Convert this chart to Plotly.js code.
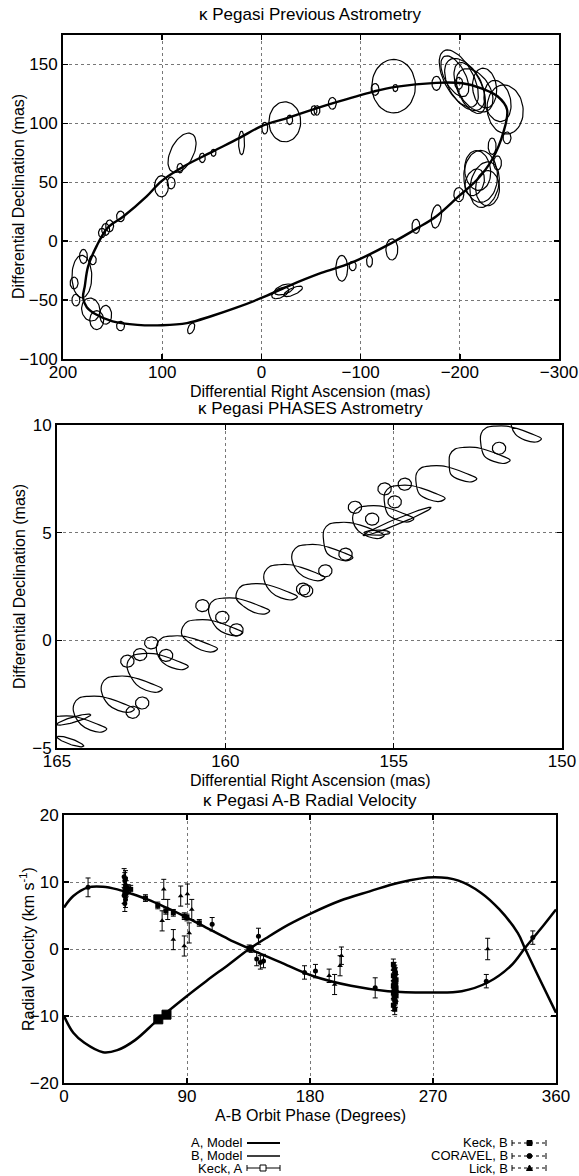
<!DOCTYPE html>
<html><head><meta charset="utf-8">
<script src="https://cdn.plot.ly/plotly-3.0.1.min.js"></script>
<style>html,body{margin:0;padding:0;background:#fff}#chart{width:579px;height:1176px}</style>
</head><body><div id="chart"></div>
<script>
// ---------- Panel 1: previous astrometry (mas) ----------
const orbitRA  = [-176,-135,-113,-71.5,-53,-26.6,0,22,48.3,78,100.7,115.7,139.5,155,166,174.8,178,179.8,176,167,150,125,100,75,50,26,0,-26.6,-60.3,-90.3,-131.5,-157.7,-176.4,-199,-217.6,-232.6,-243.8,-247.6,-238,-221,-202.6,-176];
const orbitDec = [134.4,131,127,117,112,104.7,97.6,87.7,76.4,63.6,51,38,20.7,11.3,-4,-21.8,-38,-48,-56,-62,-68,-71,-71.3,-69.5,-63.5,-56.7,-48.2,-38.3,-27,-18.5,-1.4,11.3,21.2,38.2,52.3,69.3,92,111.8,123,130,134,134.4];
// error ellipses: centre RA, Dec, semi-major, semi-minor (mas), position angle (deg E of N)
const prevEllRA  = [-133.3,-23.6,80,-114.6,-135,-176.4,-199,-205,-210,-195,-215,-225,-245.7,-238,-247.6,-221,-225,-218,-228,-215,-232.6,-238,-199,-176.4,-155.8,-131.5,-109,-92,-81,-32,-22.8,-19,70.8,142,157,166,172,181,188.8,187,179.4,170,157,153,160.7,142,100.7,91,82,59.6,48.3,20,-3.4,-28.5,-53,-56,-71.5,-199];
const prevEllDec = [131.6,101.3,75,128.8,130,134,138,133,130,140,128,130,111.8,119,87.7,55,48,60,45,50,80.6,66.4,39.5,21,12.6,-7,-17,-21,-23,-42.6,-41,-44,-74,-72,-62.5,-67,-58,-30,-35.5,-50,-13,-16,10,13,7,21,46.6,49.4,62,70.7,75,83.4,96,103,111,111,117,134];
const prevEllA   = [22.7,17,19,5,3,6,28,26,24,20,22,17,21,18,5,22,20,17,15,12,7,6,6,10,6,9,5,4,11,10,10,9,5,4,8,8,10,18,5,5,6,4,5,5,4,4.5,9,5,4,4,3,10,5,4,4,4,5,5];
const prevEllB   = [22,16,11,4,2.5,4.5,14,15,12,10,14,12,18,13,4,17,14,13,12,9,4,4,5,5,4,6,3,3.5,6,3,4,4,3,4,6,7,9,10,4,4,4,3.5,4,4,3.5,4,7,4,3,3,2.5,3,3,3,3,3,4,4];
const prevEllPA  = [0,0,-35,0,0,0,35,40,30,35,45,10,15,20,0,0,-20,10,0,-30,0,0,0,-10,0,0,0,0,0,-70,-75,-70,-30,0,0,0,30,0,0,0,0,0,0,0,0,0,0,0,0,0,0,0,0,0,0,0,0,0];

// ---------- Panel 2: PHASES astrometry (mas) ----------
const phasesRA = [
 165.33,165.31,165.16,164.89,164.56,164.23,163.85,163.52,163.68,164.01,164.29,
 164.51,164.49,164.34,164.07,163.74,163.41,163.03,162.70,162.86,163.19,163.47,
 163.68,163.66,163.51,163.24,162.91,162.58,162.20,161.87,162.03,162.36,162.64,
 162.91,162.89,162.74,162.47,162.14,161.81,161.43,161.10,161.26,161.59,161.87,
 162.04,162.02,161.87,161.60,161.27,160.94,160.56,160.23,160.39,160.72,161.00,
 161.29,161.27,161.12,160.85,160.52,160.19,159.81,159.48,159.64,159.97,160.25,
 160.49,160.47,160.32,160.05,159.72,159.39,159.01,158.68,158.84,159.17,159.45,
 159.67,159.65,159.50,159.23,158.90,158.57,158.19,157.86,158.02,158.35,158.63,
 158.85,158.83,158.68,158.41,158.08,157.75,157.37,157.04,157.20,157.53,157.81,
 158.02,158.00,157.85,157.58,157.25,156.92,156.54,156.21,156.37,156.70,156.98,
 157.09,157.07,156.92,156.65,156.32,155.99,155.61,155.28,155.44,155.77,156.05,
 156.21,156.19,156.04,155.77,155.44,155.11,154.73,154.40,154.56,154.89,155.17,
 155.28,155.26,155.11,154.84,154.51,154.18,153.80,153.47,153.63,153.96,154.24,
 154.34,154.32,154.17,153.90,153.57,153.24,152.86,152.53,152.69,153.02,153.30,
 153.35,153.33,153.18,152.91,152.58,152.25,151.87,151.54,151.70,152.03,152.31,
 152.42,152.40,152.25,151.98,151.65,151.32,150.94,150.61,150.77,151.10,151.38,
 151.52,151.50];
const phasesDec = [
 -4.22,-3.86,-3.60,-3.52,-3.52,-3.64,-3.86,-4.11,-4.26,-4.17,-3.91,
 -3.30,-2.94,-2.68,-2.60,-2.60,-2.72,-2.94,-3.19,-3.34,-3.25,-2.99,
 -2.37,-2.01,-1.75,-1.67,-1.67,-1.79,-2.01,-2.26,-2.41,-2.32,-2.06,
 -1.32,-0.96,-0.70,-0.62,-0.62,-0.74,-0.96,-1.21,-1.36,-1.27,-1.01,
 -0.50,-0.14,0.12,0.20,0.20,0.08,-0.14,-0.39,-0.54,-0.45,-0.19,
 0.25,0.61,0.87,0.95,0.95,0.83,0.61,0.36,0.21,0.30,0.56,
 1.26,1.62,1.88,1.96,1.96,1.84,1.62,1.37,1.22,1.31,1.57,
 1.92,2.28,2.54,2.62,2.62,2.50,2.28,2.03,1.88,1.97,2.23,
 2.81,3.17,3.43,3.51,3.51,3.39,3.17,2.92,2.77,2.86,3.12,
 3.74,4.10,4.36,4.44,4.44,4.32,4.10,3.85,3.70,3.79,4.05,
 4.77,5.13,5.39,5.47,5.47,5.35,5.13,4.88,4.73,4.82,5.08,
 5.54,5.90,6.16,6.24,6.24,6.12,5.90,5.65,5.50,5.59,5.85,
 6.49,6.85,7.11,7.19,7.19,7.07,6.85,6.60,6.45,6.54,6.80,
 7.40,7.76,8.02,8.10,8.10,7.98,7.76,7.51,7.36,7.45,7.71,
 8.26,8.62,8.88,8.96,8.96,8.84,8.62,8.37,8.22,8.31,8.57,
 9.25,9.61,9.87,9.95,9.95,9.83,9.61,9.36,9.21,9.30,9.56,
 10.1,10.4];
const phEllRA  = [154.67,155.27,154.97,156.15,155.64,156.43,157.03,157.69,157.6,160.68,160.09,159.67,162.2,162.53,162.91,161.76,162.47,162.75,151.87,154.89,155.49,164.5,164.6];
const phEllDec = [7.25,7.03,6.43,6.18,5.63,4.0,3.23,2.38,2.3,1.61,1.07,0.49,-0.12,-0.66,-0.97,-0.70,-2.91,-3.34,8.92,5.52,5.0,-3.68,-4.7];
const phEllA   = [0.28,0.28,0.28,0.28,0.28,0.28,0.28,0.28,0.28,0.28,0.28,0.28,0.28,0.28,0.28,0.28,0.28,0.28,0.28,1.2,0.38,0.55,0.45];
const phEllB   = [0.2,0.2,0.2,0.2,0.2,0.2,0.2,0.2,0.2,0.2,0.2,0.2,0.2,0.2,0.2,0.2,0.2,0.2,0.2,0.12,0.12,0.12,0.12];
const phEllPA  = [0,0,0,0,0,0,0,0,0,0,0,0,0,0,0,0,0,0,0,-57,90,-65,60];

// ---------- Panel 3: radial velocity ----------
const modelBPhase = [0,6.8,17.6,28.5,39,50,61,74.5,90,104,120.6,134,142,158.6,181.6,210,237,271,291,310,327,337.5,348.4,360];
const modelBRV    = [6.2,7.9,9.2,9.3,8.9,8.2,7.4,6.2,4.7,3.2,1.45,0.2,-0.55,-2.0,-4.0,-5.5,-6.3,-6.5,-6.3,-5.0,-2.5,0.2,2.9,5.9];
const modelAPhase = [0,6.8,14.9,28.5,39,52,69,90,104,120.6,135.5,147.7,164,181.6,202,223.7,245,271,288.7,305,318.6,332,337.5,345.7,360];
const modelARV    = [-10.0,-12.5,-14.0,-15.4,-15.1,-13.6,-10.5,-7.0,-4.8,-2.3,0.0,1.6,3.6,5.4,7.2,8.6,9.9,10.7,10.2,8.4,5.9,2.4,0,-3.5,-9.5];

const keckAPhase = [69,75];
const keckARV    = [-10.5,-9.8];
const keckAErr   = [0.3,0.3];

const keckBPhase = [46,48.8,45,47,44.5,59.6,68.6,74.5,80,88,90,99,135.5,137,241,241.5,242,242.5,241,242,243,241.5,242,242.5,241,242,243,241.5,242,242.5,241,242,243,241.5,242,242.5,241,242];
const keckBRV    = [8.7,8.9,8.3,9.0,8.5,7.6,6.5,5.7,5.4,4.9,4.7,3.9,0.1,0.0,-2.3,-2.8,-3.2,-3.6,-4.0,-4.3,-4.6,-4.9,-5.1,-5.3,-5.5,-5.7,-5.9,-6.0,-6.2,-6.4,-6.6,-6.8,-7.0,-7.3,-7.6,-7.9,-8.4,-9.0];
const keckBErr   = [0.6,0.6,0.6,0.6,0.6,0.5,0.5,0.5,0.5,0.5,0.5,0.5,0.5,0.5,0.8,0.8,0.8,0.8,0.8,0.8,0.8,0.8,0.8,0.8,0.8,0.8,0.8,0.8,0.8,0.8,0.8,0.8,0.8,0.8,0.8,0.8,0.8,0.8];

const coravelPhase = [17.6,44,44.5,45,45.5,44,45,44.5,45,108.4,142.3,141,143.7,146,176,184,227.7,309,343];
const coravelRV    = [9.2,10.8,10.2,9.5,9.0,8.0,7.4,6.8,10.5,3.7,1.9,-1.5,-2.0,-1.8,-3.5,-3.3,-5.8,-4.8,1.7];
const coravelErr   = [1.4,1.2,1.2,1.2,1.2,1.2,1.2,1.2,1.2,1.0,1.2,1.0,1.0,1.0,1.0,1.0,1.5,1.0,1.0];

const lickPhase = [73,71.8,75.9,80,85.4,88,90.3,91.6,93.5,198,202,203,194,310];
const lickRV    = [8.9,4.2,5.9,1.4,7.9,0.45,8.2,2.4,5.9,-5.3,-2.5,-1.0,-4.0,0.0];
const lickErr   = [1.5,1.5,1.5,1.5,1.5,1.5,1.5,1.5,1.5,1.5,1.5,1.3,1.0,1.6];

// ---------- helpers ----------
function ellipses(ra, dec, A, B, PA) {
  const xs = [], ys = [];
  for (let k = 0; k < ra.length; k++) {
    const p = PA[k] * Math.PI / 180;
    for (let i = 0; i <= 60; i++) {
      const t = 2 * Math.PI * i / 60;
      const u = A[k] * Math.cos(t), v = B[k] * Math.sin(t);
      xs.push(ra[k] + u * Math.sin(p) + v * Math.cos(p));
      ys.push(dec[k] + u * Math.cos(p) - v * Math.sin(p));
    }
    xs.push(null); ys.push(null);
  }
  return {xs, ys};
}
const W = 579, H = 1176;
const px = x => x / W, py = y => 1 - y / H;

const e1 = ellipses(prevEllRA, prevEllDec, prevEllA, prevEllB, prevEllPA);
const e2 = ellipses(phEllRA, phEllDec, phEllA, phEllB, phEllPA);

const ebar = (arr) => ({type: 'data', array: arr, visible: true, color: '#000', thickness: 1, width: 2.5});

const traces = [
  {x: orbitRA, y: orbitDec, xaxis: 'x', yaxis: 'y', mode: 'lines', line: {color: '#000', width: 2.4, shape: 'spline', smoothing: 1}, showlegend: false, hoverinfo: 'skip'},
  {x: e1.xs, y: e1.ys, xaxis: 'x', yaxis: 'y', mode: 'lines', line: {color: '#000', width: 1.2}, showlegend: false, hoverinfo: 'skip', connectgaps: false},
  {x: phasesRA, y: phasesDec, xaxis: 'x2', yaxis: 'y2', mode: 'lines', line: {color: '#000', width: 1.2, shape: 'spline', smoothing: 1}, showlegend: false, hoverinfo: 'skip'},
  {x: e2.xs, y: e2.ys, xaxis: 'x2', yaxis: 'y2', mode: 'lines', line: {color: '#000', width: 1.2}, showlegend: false, hoverinfo: 'skip', connectgaps: false},
  {x: modelAPhase, y: modelARV, xaxis: 'x3', yaxis: 'y3', mode: 'lines', line: {color: '#000', width: 2.5, shape: 'spline', smoothing: 1}, name: 'A, Model', showlegend: false},
  {x: modelBPhase, y: modelBRV, xaxis: 'x3', yaxis: 'y3', mode: 'lines', line: {color: '#000', width: 2.5, shape: 'spline', smoothing: 1}, name: 'B, Model', showlegend: false},
  {x: keckBPhase, y: keckBRV, error_y: ebar(keckBErr), xaxis: 'x3', yaxis: 'y3', mode: 'markers', marker: {symbol: 'square', size: 5, color: '#000'}, name: 'Keck, B', showlegend: false},
  {x: coravelPhase, y: coravelRV, error_y: ebar(coravelErr), xaxis: 'x3', yaxis: 'y3', mode: 'markers', marker: {symbol: 'circle', size: 5, color: '#000'}, name: 'CORAVEL, B', showlegend: false},
  {x: lickPhase, y: lickRV, error_y: ebar(lickErr), xaxis: 'x3', yaxis: 'y3', mode: 'markers', marker: {symbol: 'triangle-up', size: 5, color: '#000'}, name: 'Lick, B', showlegend: false},
  {x: keckAPhase, y: keckARV, error_y: ebar(keckAErr), xaxis: 'x3', yaxis: 'y3', mode: 'markers', marker: {symbol: 'square', size: 9, color: '#000', line: {color: '#000', width: 1}}, name: 'Keck, A', showlegend: false}
];

const FONT = 'Liberation Sans, Arial, sans-serif';
const axBase = {
  showline: true, linecolor: '#000', linewidth: 2, mirror: 'allticks',
  ticks: 'inside', ticklen: 5, tickwidth: 1.5, tickcolor: '#000',
  showgrid: true, gridcolor: '#777', griddash: 'dot', gridwidth: 1,
  zeroline: false, tickfont: {family: FONT, size: 17, color: '#000'}, fixedrange: true
};
const xBase = Object.assign({}, axBase, {ticklabelstandoff: -3});

const ann = (text, x, y, opt = {}) => Object.assign({text, x: px(x), y: py(y), xref: 'paper', yref: 'paper', showarrow: false, font: {family: FONT, size: 17, color: '#000'}, xanchor: 'center', yanchor: 'middle', borderpad: 0}, opt);
const AF = {family: FONT, size: 16, color: '#000'};
const LF = {family: FONT, size: 13, color: '#000'};
const LG = {xanchor: 'right', font: LF};

const annotations = [
  ann('κ Pegasi Previous Astrometry', 311, 15),
  ann('Differential Right Ascension (mas)', 311, 391, {font: AF}),
  ann('Differential Declination (mas)', 18, 197, {textangle: -90, font: AF}),
  ann('κ Pegasi PHASES Astrometry', 310, 409),
  ann('Differential Right Ascension (mas)', 310, 780, {font: AF}),
  ann('Differential Declination (mas)', 19, 587, {textangle: -90, font: AF}),
  ann('κ Pegasi A-B Radial Velocity', 310, 800),
  ann('A-B Orbit Phase (Degrees)', 310, 1115, {font: AF}),
  ann('Radial Velocity (km s<sup>-1</sup>)', 27, 949, {textangle: -90, font: AF}),
  // legend text
  ann('A, Model', 243, 1142, LG),
  ann('B, Model', 243, 1155, LG),
  ann('Keck, A', 243, 1168, LG),
  ann('Keck, B', 509, 1142, LG),
  ann('CORAVEL, B', 509, 1155, LG),
  ann('Lick, B', 509, 1168, LG)
];

const L = (x0, y0, x1, y1, w, dash) => ({type: 'line', xref: 'paper', yref: 'paper', x0: px(x0), y0: py(y0), x1: px(x1), y1: py(y1), line: {color: '#000', width: w, dash: dash || 'solid'}});
const shapes = [
  L(247, 1143, 280, 1143, 2.2),
  L(247, 1156, 280, 1156, 1.3),
  L(247, 1168, 280, 1168, 1), L(247, 1165, 247, 1171, 1), L(280, 1165, 280, 1171, 1),
  {type: 'rect', xref: 'paper', yref: 'paper', x0: px(260), x1: px(266), y0: py(1165), y1: py(1171), line: {color: '#000', width: 1}, fillcolor: '#fff'},
  L(512, 1143, 546, 1143, 1, 'dot'), L(512, 1140, 512, 1146, 1), L(546, 1140, 546, 1146, 1),
  {type: 'rect', xref: 'paper', yref: 'paper', x0: px(527), x1: px(532), y0: py(1140.5), y1: py(1145.5), line: {color: '#000', width: 1}, fillcolor: '#000'},
  L(512, 1156, 546, 1156, 1, 'dot'), L(512, 1153, 512, 1159, 1), L(546, 1153, 546, 1159, 1),
  {type: 'circle', xref: 'paper', yref: 'paper', x0: px(527), x1: px(532), y0: py(1153.5), y1: py(1158.5), line: {color: '#000', width: 1}, fillcolor: '#000'},
  L(512, 1168, 546, 1168, 1, 'dot'), L(512, 1165, 512, 1171, 1), L(546, 1165, 546, 1171, 1),
  {type: 'path', xref: 'paper', yref: 'paper', path: `M ${px(526.5)} ${py(1170.5)} L ${px(532.5)} ${py(1170.5)} L ${px(529.5)} ${py(1165)} Z`, line: {color: '#000', width: 1}, fillcolor: '#000'}
];

const layout = {
  width: W, height: H, margin: {l: 0, r: 0, t: 0, b: 0},
  paper_bgcolor: '#fff', plot_bgcolor: '#fff', showlegend: false,
  font: {family: FONT, size: 17, color: '#000'},
  xaxis: Object.assign({}, xBase, {domain: [px(63), px(559)], anchor: 'y', range: [200, -300], tickvals: [200, 100, 0, -100, -200, -300]}),
  yaxis: Object.assign({}, axBase, {domain: [py(359), py(35)], anchor: 'x', range: [-100, 175], tickvals: [-100, -50, 0, 50, 100, 150]}),
  xaxis2: Object.assign({}, xBase, {domain: [px(57), px(562)], anchor: 'y2', range: [165, 150], tickvals: [165, 160, 155, 150]}),
  yaxis2: Object.assign({}, axBase, {domain: [py(748), py(425)], anchor: 'x2', range: [-5, 10], tickvals: [-5, 0, 5, 10]}),
  xaxis3: Object.assign({}, xBase, {domain: [px(64), px(556)], anchor: 'y3', range: [0, 360], tickvals: [0, 90, 180, 270, 360]}),
  yaxis3: Object.assign({}, axBase, {domain: [py(1083), py(815)], anchor: 'x3', range: [-20, 20], tickvals: [-20, -10, 0, 10, 20]}),
  annotations, shapes
};

Plotly.newPlot('chart', traces, layout, {staticPlot: true, displayModeBar: false});
</script></body></html>
